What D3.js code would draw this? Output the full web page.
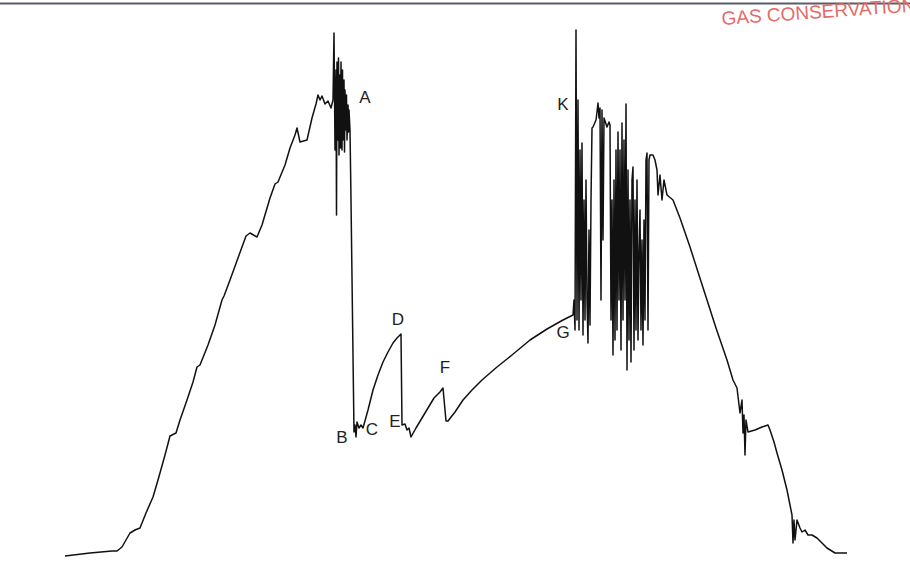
<!DOCTYPE html>
<html>
<head>
<meta charset="utf-8">
<script src="https://cdn.jsdelivr.net/npm/d3@7"></script>
<style>
  body { margin: 0; background: #fff; }
  svg { display: block; }
</style>
</head>
<body>
<div id="chart"></div>
<script>
// Size of the page and plot area
const width = 910;
const height = 562;
const margin = { left: 60, right: 50, top: 36, bottom: 6 };

// Pressure trace: [time, pressure] in chart units
const riseTrace = [
  [5, 0], [30, 3], [52, 5], [57, 5], [62, 9], [70, 23], [75, 26], [80, 28],
  [86, 43], [93, 59], [98, 76], [105, 101], [110, 120], [116, 123], [120, 136],
  [127, 156], [133, 174], [137, 189], [140, 191], [148, 211], [155, 231],
  [162, 256], [164, 260], [170, 276], [178, 298], [186, 320], [190, 323],
  [197, 319], [202, 331], [210, 358], [215, 372], [218, 374], [225, 391],
  [230, 408], [235, 421], [237, 428], [240, 414], [247, 416], [252, 438],
  [256, 452], [258, 461], [260, 456], [262, 460], [265, 452], [268, 455],
  [271, 448]
];

// noisy stretch around A
const burstA = [
  [273, 456], [274, 523], [275, 406], [276, 486], [276.5, 341], [277, 494],
  [278, 416], [278.5, 498], [279, 401], [280, 481], [280.5, 408], [281, 494],
  [282, 406], [282.5, 486], [283, 416], [284, 476], [284.5, 404], [285, 466],
  [286, 426], [286.5, 461], [287, 416], [288, 451], [288.5, 424], [289, 446],
  [290, 426]
];

// drop to B, then the C-D, E-F and F-G build-ups
const buildUp = [
  [291, 356], [294, 124], [295, 131], [296, 119], [297, 134], [299, 128],
  [301, 131], [303, 128], [308, 146], [313, 166], [318, 181], [323, 194],
  [328, 204], [333, 213], [337, 218], [341, 222], [342, 131], [345, 132],
  [347, 126], [349, 128], [351, 119], [356, 128], [362, 138], [368, 148],
  [374, 158], [380, 164], [383, 168], [386, 135], [388, 135], [395, 144],
  [403, 156], [412, 166], [422, 176], [437, 189], [452, 201], [470, 216],
  [487, 227], [503, 236], [513, 241]
];

// noisy stretch from G / K
const burstK = [
  [514, 256], [515, 226], [516, 526], [517, 236], [518, 456], [519, 226],
  [520, 406], [521, 256], [522, 413], [523, 221], [524, 356], [525, 236],
  [526, 376], [527, 256], [528, 213], [529, 326], [530, 231], [531, 356],
  [532, 428], [533, 429], [536, 436], [537, 444], [538, 453], [539, 438],
  [540, 448], [541, 256], [542, 446], [543, 316], [544, 438], [547, 429],
  [549, 434], [550, 431], [551, 236], [552, 356], [553, 201], [554, 376],
  [555, 216], [556, 406], [557, 226], [558, 424], [559, 256], [560, 406],
  [561, 206], [562, 433], [563, 236], [564, 416], [565, 256], [566, 452],
  [567, 186], [568, 386], [569, 216], [570, 356], [571, 194], [572, 376],
  [573, 389], [574, 206], [575, 356], [576, 226], [577, 376], [578, 216],
  [579, 306], [580, 346], [581, 226], [582, 316], [583, 211], [584, 336],
  [585, 236], [586, 396], [587, 403], [588, 226], [589, 396], [590, 401],
  [593, 401], [595, 396]
];

// falling side
const fallTrace = [
  [597, 386], [598, 361], [600, 381], [602, 356], [604, 376], [607, 361],
  [613, 356], [620, 338], [630, 309], [638, 284], [647, 256], [656, 228],
  [667, 196], [673, 176], [677, 168], [680, 143], [682, 156], [683, 123],
  [684, 141], [685, 101], [686, 136], [688, 124], [695, 126], [702, 129],
  [708, 131], [710, 126], [714, 114], [717, 103], [722, 86], [727, 66],
  [730, 51], [732, 41], [733, 13], [734, 36], [735, 16], [737, 36],
  [740, 28], [742, 24], [745, 26], [748, 21], [752, 21], [757, 18],
  [762, 13], [767, 8], [775, 3], [787, 3]
];

// point labels and where they sit
const labelNames = ["A", "B", "C", "D", "E", "F", "G", "K"];
const labelTimes = [305, 282, 312, 338, 335, 385, 503, 503];
const labelPressures = [453, 113, 121, 231, 129, 183, 218, 446];

const trace = [].concat(riseTrace, burstA, buildUp, burstK, fallTrace);

const svg = d3.select("#chart")
  .append("svg")
  .attr("width", width)
  .attr("height", height);

const xScale = d3.scaleLinear()
  .domain([0, 800])
  .range([margin.left, width - margin.right]);

const yScale = d3.scaleLinear()
  .domain([0, 520])
  .range([height - margin.bottom, margin.top]);

// scan border at the top
svg.append("line")
  .attr("x1", 0)
  .attr("x2", width)
  .attr("y1", 3.5)
  .attr("y2", 3.5)
  .attr("stroke", "#5a5d66")
  .attr("stroke-width", 2);

// stamp in the corner, runs off the page like on the scan
svg.append("text")
  .attr("transform", "translate(722,25) rotate(-4)")
  .attr("font-family", "Liberation Sans, Arial, sans-serif")
  .attr("font-size", 19)
  .attr("fill", "#e46a6a")
  .text("GAS CONSERVATION");

const line = d3.line()
  .x(d => xScale(d[0]))
  .y(d => yScale(d[1]));

svg.append("path")
  .datum(trace)
  .attr("d", line)
  .attr("fill", "none")
  .attr("stroke", "#111")
  .attr("stroke-width", 1.5)
  .attr("stroke-linejoin", "round");

svg.selectAll(".pt-label")
  .data(labelNames)
  .enter()
  .append("text")
  .attr("class", "pt-label")
  .attr("x", (d, i) => xScale(labelTimes[i]))
  .attr("y", (d, i) => yScale(labelPressures[i]))
  .attr("text-anchor", "middle")
  .attr("font-family", "Liberation Sans, Arial, sans-serif")
  .attr("font-size", 17)
  .attr("fill", "#222")
  .text(d => d);
</script>
</body>
</html>
